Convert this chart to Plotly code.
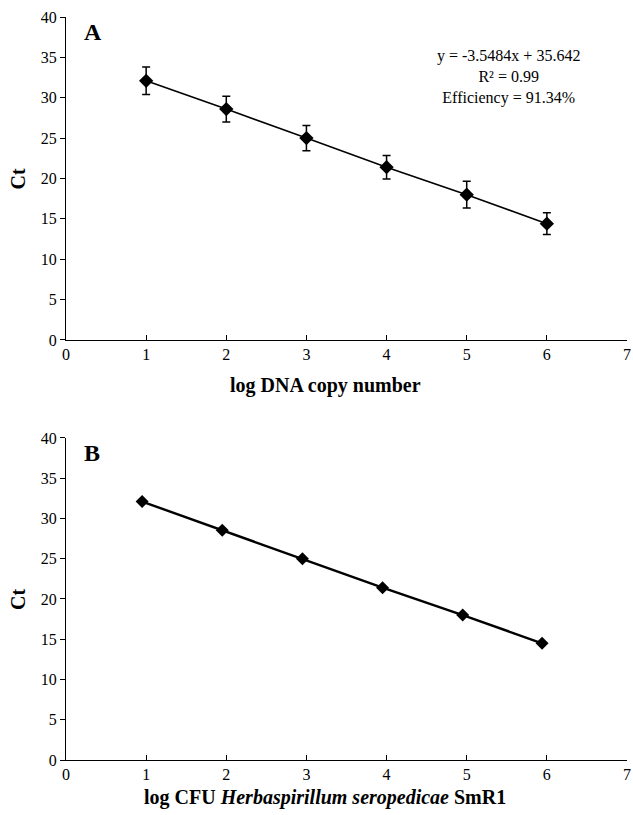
import plotly.graph_objects as go

# Panel A data
log_dna = [1, 2, 3, 4, 5, 6]
ct_a = [32.1, 28.6, 25.0, 21.4, 18.0, 14.4]
ct_a_err = [1.7, 1.6, 1.55, 1.45, 1.65, 1.35]

# Panel B data
log_cfu = [0.95, 1.95, 2.95, 3.95, 4.95, 5.94]
ct_b = [32.1, 28.55, 25.0, 21.4, 18.0, 14.5]

x_ticks = [0, 1, 2, 3, 4, 5, 6, 7]
y_ticks = [0, 5, 10, 15, 20, 25, 30, 35, 40]

FONT = "Liberation Serif, Times New Roman, DejaVu Serif, serif"

fig = go.Figure()
fig.add_trace(go.Scatter(
    x=log_dna, y=ct_a, mode="lines+markers",
    line=dict(color="black", width=1.6),
    marker=dict(symbol="diamond", size=11, color="black"),
    error_y=dict(type="data", array=ct_a_err, color="black", thickness=1.5, width=4),
    xaxis="x", yaxis="y", showlegend=False))
fig.add_trace(go.Scatter(
    x=log_cfu, y=ct_b, mode="lines+markers",
    line=dict(color="black", width=2.4),
    marker=dict(symbol="diamond", size=10, color="black"),
    xaxis="x2", yaxis="y2", showlegend=False))

axis_common = dict(
    showline=True, linecolor="black", linewidth=1.2, showgrid=False, zeroline=False,
    tickfont=dict(family=FONT, size=16, color="black"), ticklen=5, tickwidth=1,
    tickcolor="black", automargin=False)

fig.update_layout(
    width=633, height=815,
    margin=dict(l=66, r=6, t=17, b=55),
    plot_bgcolor="white", paper_bgcolor="white",
    font=dict(family=FONT, color="black"),
    xaxis=dict(domain=[0, 1], range=[0, 7], tickvals=x_ticks, ticks="inside",
               anchor="y", **axis_common),
    yaxis=dict(domain=[0.5653, 1], range=[0, 40], tickvals=y_ticks, ticks="outside",
               anchor="x", **axis_common),
    xaxis2=dict(domain=[0, 1], range=[0, 7], tickvals=x_ticks, ticks="inside",
                anchor="y2", **axis_common),
    yaxis2=dict(domain=[0, 0.4334], range=[0, 40], tickvals=y_ticks, ticks="outside",
                anchor="x2", **axis_common),
)

title_font = dict(family=FONT, size=20, color="black")
# axis titles
fig.add_annotation(x=0.4617, y=0.5047, xref="paper", yref="paper",
                   text="<b>log DNA copy number</b>", showarrow=False,
                   xanchor="center", yanchor="middle", font=title_font)
fig.add_annotation(x=0.4617, y=-0.0505, xref="paper", yref="paper",
                   text="<b>log CFU <i>Herbaspirillum seropedicae</i> SmR1</b>", showarrow=False,
                   xanchor="center", yanchor="middle", font=title_font)
fig.add_annotation(x=-0.0856, y=0.7827, xref="paper", yref="paper",
                   text="<b>Ct</b>", showarrow=False, textangle=-90,
                   xanchor="center", yanchor="middle", font=title_font)
fig.add_annotation(x=-0.0856, y=0.2167, xref="paper", yref="paper",
                   text="<b>Ct</b>", showarrow=False, textangle=-90,
                   xanchor="center", yanchor="middle", font=title_font)

fig.add_annotation(x=0.2, y=40, xref="x", yref="y", text="<b>A</b>", showarrow=False,
                   xanchor="left", yanchor="top", font=dict(family=FONT, size=24, color="black"))
fig.add_annotation(x=0.2, y=40, xref="x2", yref="y2", text="<b>B</b>", showarrow=False,
                   xanchor="left", yanchor="top", font=dict(family=FONT, size=24, color="black"))
fig.add_annotation(x=5.52, y=32.6, xref="x", yref="y",
                   text="y = -3.5484x + 35.642<br>R² = 0.99<br>Efficiency = 91.34%",
                   showarrow=False, align="center", xanchor="center", yanchor="middle",
                   font=dict(family=FONT, size=16, color="black"))

fig.write_html("out.html", config={"displayModeBar": False},
               post_script="document.body.style.margin='0';")
